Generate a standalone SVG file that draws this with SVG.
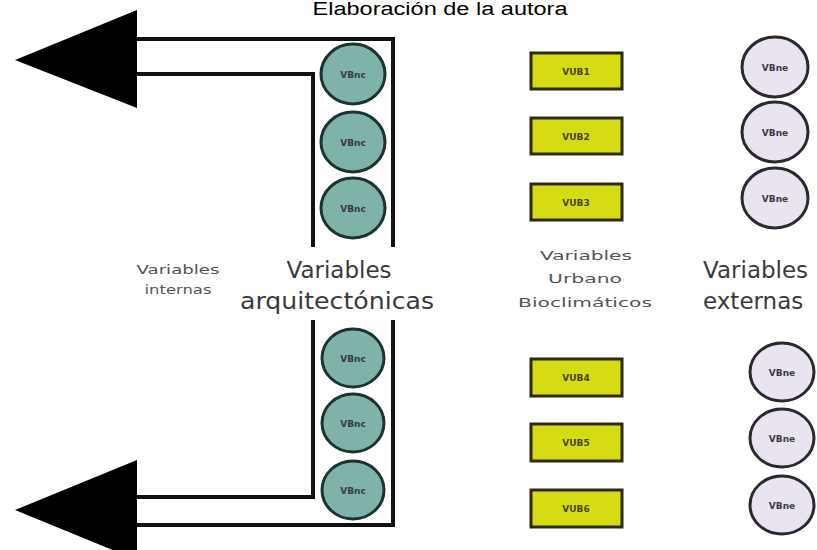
<svg xmlns="http://www.w3.org/2000/svg" width="817" height="550" viewBox="0 0 817 550">
<style>
.bg{fill:#ffffff}
.ln{fill:none;stroke:#111;stroke-width:4;stroke-linecap:square}
.head{fill:#000}
.ca ellipse{fill:#7fb2a8;stroke:#1b3430;stroke-width:3}
.ce ellipse{fill:#e9e4f0;stroke:#2a2a2e;stroke-width:3}
.vb rect{fill:#d6dc14;stroke:#2e2a0c;stroke-width:3}
.lbl{font-family:"DejaVu Sans",sans-serif;font-size:9px;font-weight:bold;fill:#3a3a44;text-anchor:middle}
.vlb{font-family:"DejaVu Sans",sans-serif;font-size:9px;font-weight:bold;fill:#4a4608;text-anchor:middle}
.big{font-family:"DejaVu Sans",sans-serif;font-size:23px;fill:#3a3a3a;text-anchor:middle}
.sm{font-family:"DejaVu Sans",sans-serif;font-size:12px;fill:#555;text-anchor:middle}
.title{font-family:"Liberation Sans",Arial,sans-serif;font-size:18px;fill:#000;text-anchor:middle}
</style>
<rect class="bg" x="0" y="0" width="817" height="550"/>
<text class="title" x="440" y="15" textLength="255" lengthAdjust="spacingAndGlyphs">Elaboración de la autora</text>

<g id="connectors">
  <polyline class="ln" points="137,39 393,39 393,245"/>
  <polyline class="ln" points="137,74 313,74 313,245"/>
  <polygon class="head" points="15,60 137,10 137,108"/>
  <polyline class="ln" points="313,322 313,497 137,497"/>
  <polyline class="ln" points="393,322 393,525 137,525"/>
  <polygon class="head" points="15,510 137,460 137,560"/>
</g>

<g id="arq1" class="ca"><ellipse cx="353" cy="74" rx="32" ry="30"/><text class="lbl" x="353" y="78">VBnc</text></g>
<g id="arq2" class="ca"><ellipse cx="353" cy="142" rx="32" ry="30"/><text class="lbl" x="353" y="146">VBnc</text></g>
<g id="arq3" class="ca"><ellipse cx="353" cy="208" rx="32" ry="30"/><text class="lbl" x="353" y="212">VBnc</text></g>
<g id="arq4" class="ca"><ellipse cx="353" cy="358" rx="31" ry="29"/><text class="lbl" x="353" y="362">VBnc</text></g>
<g id="arq5" class="ca"><ellipse cx="353" cy="423" rx="31" ry="29"/><text class="lbl" x="353" y="427">VBnc</text></g>
<g id="arq6" class="ca"><ellipse cx="353" cy="490" rx="31" ry="29"/><text class="lbl" x="353" y="494">VBnc</text></g>

<g id="vub1" class="vb"><rect x="531" y="53" width="91" height="36"/><text class="vlb" x="576" y="75">VUB1</text></g>
<g id="vub2" class="vb"><rect x="531" y="118" width="91" height="36"/><text class="vlb" x="576" y="140">VUB2</text></g>
<g id="vub3" class="vb"><rect x="531" y="184" width="91" height="36"/><text class="vlb" x="576" y="206">VUB3</text></g>
<g id="vub4" class="vb"><rect x="531" y="359" width="91" height="37"/><text class="vlb" x="576" y="381">VUB4</text></g>
<g id="vub5" class="vb"><rect x="531" y="424" width="91" height="37"/><text class="vlb" x="576" y="446">VUB5</text></g>
<g id="vub6" class="vb"><rect x="531" y="490" width="91" height="37"/><text class="vlb" x="576" y="512">VUB6</text></g>

<g id="ext1" class="ce"><ellipse cx="775" cy="67" rx="33" ry="30"/><text class="lbl" x="775" y="71">VBne</text></g>
<g id="ext2" class="ce"><ellipse cx="775" cy="132" rx="33" ry="30"/><text class="lbl" x="775" y="136">VBne</text></g>
<g id="ext3" class="ce"><ellipse cx="775" cy="198" rx="33" ry="30"/><text class="lbl" x="775" y="202">VBne</text></g>
<g id="ext4" class="ce"><ellipse cx="782" cy="372" rx="32" ry="29"/><text class="lbl" x="782" y="376">VBne</text></g>
<g id="ext5" class="ce"><ellipse cx="782" cy="438" rx="32" ry="29"/><text class="lbl" x="782" y="442">VBne</text></g>
<g id="ext6" class="ce"><ellipse cx="782" cy="505" rx="32" ry="29"/><text class="lbl" x="782" y="509">VBne</text></g>

<g id="lbl-internas">
  <text class="sm" x="178" y="274" textLength="83" lengthAdjust="spacingAndGlyphs">Variables</text>
  <text class="sm" x="178" y="294" textLength="67" lengthAdjust="spacingAndGlyphs">internas</text>
</g>
<g id="lbl-arq">
  <text class="big" x="339" y="278">Variables</text>
  <text class="big" x="337" y="309" textLength="194" lengthAdjust="spacingAndGlyphs">arquitectónicas</text>
</g>
<g id="lbl-urb">
  <text class="sm" x="586" y="260" textLength="92" lengthAdjust="spacingAndGlyphs">Variables</text>
  <text class="sm" x="585" y="283" textLength="74" lengthAdjust="spacingAndGlyphs">Urbano</text>
  <text class="sm" x="585" y="307" textLength="134" lengthAdjust="spacingAndGlyphs">Bioclimáticos</text>
</g>
<g id="lbl-ext">
  <text class="big" x="703" y="278" style="text-anchor:start">Variables</text>
  <text class="big" x="703" y="309" style="text-anchor:start">externas</text>
</g>
</svg>
